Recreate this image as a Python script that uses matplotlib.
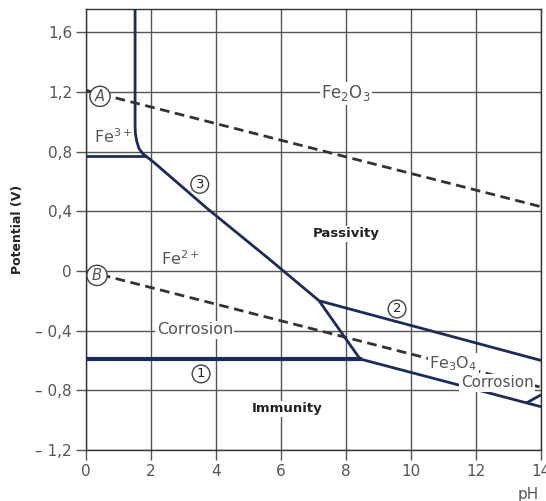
import matplotlib
matplotlib.use('Agg')
import matplotlib.pyplot as plt

# Pourbaix diagram of iron (pH vs potential)
y_ticks = [1.6, 1.2, 0.8, 0.4, 0.0, -0.4, -0.8, -1.2]
y_labels = ["1,6", "1,2", "0,8", "0,4", "0", "\u2013 0,4", "\u2013 0,8", "\u2013 1,2"]
x_ticks = [0, 2, 4, 6, 8, 10, 12, 14]
x_labels = ["0", "2", "4", "6", "8", "10", "12", "14"]

# boundary lines (pH, V)
curve3_ph = [1.51, 1.51, 1.52, 1.56, 1.63, 1.75, 1.9, 2.1, 3.72, 5.66, 7.17]
curve3_v = [1.76, 0.97, 0.92, 0.87, 0.82, 0.785, 0.76, 0.725, 0.42, 0.075, -0.20]
fe3_ph = [0, 1.85]
fe3_v = [0.77, 0.77]
line1_ph = [0, 8.43]
line1_v = [-0.59, -0.59]
line2_ph = [7.17, 14]
line2_v = [-0.20, -0.60]
steep_ph = [7.17, 8.43]
steep_v = [-0.20, -0.59]
lower_ph = [8.43, 14]
lower_v = [-0.59, -0.91]
branch_ph = [13.55, 14]
branch_v = [-0.885, -0.83]

# water stability lines
lineA_ph = [0, 14]
lineA_v = [1.21, 0.43]
lineB_ph = [0, 14]
lineB_v = [0.0, -0.78]

navy = '#1d2b5c'
grid_c = '#555555'
text_c = '#555555'

fig = plt.figure(figsize=(5.46, 5.01), dpi=100)
ax = fig.add_axes([0.1575, 0.1018, 0.8335, 0.8802])
ax.set_xlim(0, 14)
ax.set_ylim(-1.2, 1.755)

ax.set_xticks(x_ticks)
ax.set_xticklabels(x_labels, color=text_c, fontsize=11)
ax.set_yticks(y_ticks)
ax.set_yticklabels(y_labels, color=text_c, fontsize=11)
ax.tick_params(length=7, width=1, color=grid_c, pad=3)
ax.grid(True, color=grid_c, linewidth=1)
ax.set_axisbelow(True)
for s in ax.spines.values():
    s.set_color('#333333')
    s.set_linewidth(1)

ax.set_ylabel("Potential (V)", fontsize=9, fontweight='bold', color='#222222', labelpad=8)
ax.text(13.6, -1.5, "pH", ha='center', va='center', color=text_c, fontsize=11)

ax.plot(lineA_ph, lineA_v, color='#333333', lw=2, ls=(0, (3.5, 2)), zorder=2)
ax.plot(lineB_ph, lineB_v, color='#333333', lw=2, ls=(0, (3.5, 2)), zorder=2)

for px, pv in [(curve3_ph, curve3_v), (fe3_ph, fe3_v), (line2_ph, line2_v),
               (steep_ph, steep_v), (lower_ph, lower_v), (branch_ph, branch_v)]:
    ax.plot(px, pv, color=navy, lw=2, zorder=3, solid_capstyle='butt')
ax.plot(line1_ph, line1_v, color=navy, lw=3, zorder=3)

wb = dict(facecolor='white', edgecolor='none', pad=1)
ax.text(8.0, 1.19, "Fe$_2$O$_3$", ha='center', va='center', color=text_c, fontsize=12, bbox=wb, zorder=4)
ax.text(0.83, 0.9, "Fe$^{3+}$", ha='center', va='center', color=text_c, fontsize=11.5, zorder=4)
ax.text(2.9, 0.08, "Fe$^{2+}$", ha='center', va='center', color=text_c, fontsize=11.5, zorder=4)
ax.text(8.0, 0.25, "Passivity", ha='center', va='center', color='#222222', fontsize=9.5, fontweight='bold', bbox=wb, zorder=4)
ax.text(3.35, -0.395, "Corrosion", ha='center', va='center', color=text_c, fontsize=11.5, bbox=wb, zorder=4)
ax.text(6.2, -0.925, "Immunity", ha='center', va='center', color='#222222', fontsize=9.5, fontweight='bold', bbox=wb, zorder=4)
ax.text(11.3, -0.62, "Fe$_3$O$_4$", ha='center', va='center', color=text_c, fontsize=11.5, bbox=wb, zorder=4)
ax.text(12.65, -0.75, "Corrosion", ha='center', va='center', color=text_c, fontsize=11, bbox=wb, zorder=4)

cb = dict(boxstyle='circle,pad=0.18', facecolor='white', edgecolor='#444444', lw=1)
ax.text(0.43, 1.17, "A", ha='center', va='center', style='italic', color=text_c, fontsize=10.5, bbox=cb, zorder=5)
ax.text(0.34, -0.03, "B", ha='center', va='center', style='italic', color=text_c, fontsize=10.5, bbox=cb, zorder=5)
ax.text(3.54, -0.69, "1", ha='center', va='center', color='#222222', fontsize=9.5, bbox=cb, zorder=5)
ax.text(9.57, -0.255, "2", ha='center', va='center', color='#222222', fontsize=9.5, bbox=cb, zorder=5)
ax.text(3.5, 0.58, "3", ha='center', va='center', color='#222222', fontsize=9.5, bbox=cb, zorder=5)

fig.savefig('out.png')
